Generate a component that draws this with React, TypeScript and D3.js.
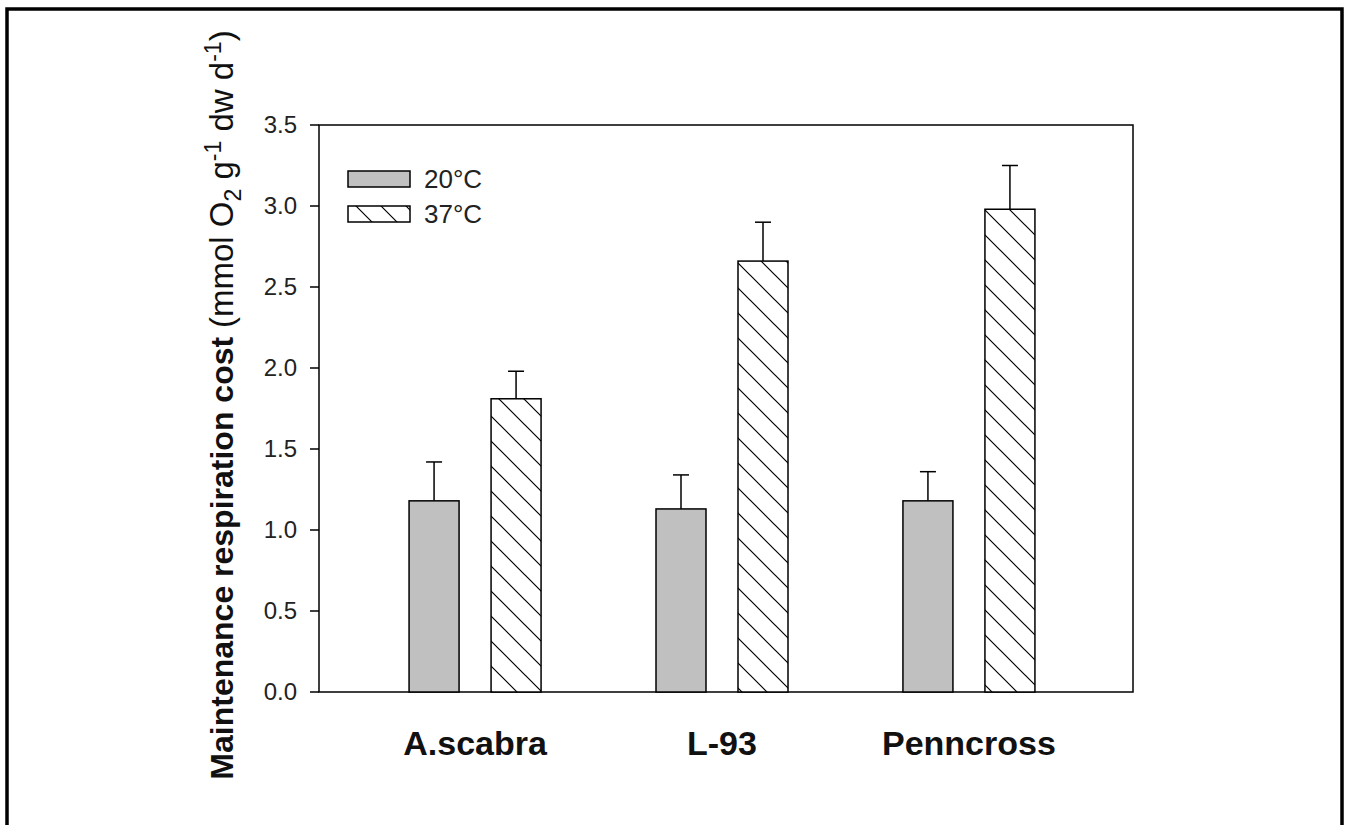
import { useEffect, useRef } from 'react';
import * as d3 from 'd3';

const W = 1349;
const H = 825;

const categories = ['A.scabra', 'L-93', 'Penncross'];
const series = ['20°C', '37°C'];
const mean20 = [1.18, 1.13, 1.18];
const err20 = [0.24, 0.21, 0.18];
const mean37 = [1.81, 2.66, 2.98];
const err37 = [0.17, 0.24, 0.27];
const yTicks = [0, 0.5, 1.0, 1.5, 2.0, 2.5, 3.0, 3.5];

const M = { left: 319, top: 125, right: 1133, bottom: 692 };
const BAR_W = 50;

export default function App() {
  const svgRef = useRef<SVGSVGElement>(null);

  useEffect(() => {
    const svg = d3.select(svgRef.current);
    svg.selectAll('*').remove();
    const font = 'Arial, "Liberation Sans", sans-serif';

    const x = d3.scalePoint<string>().domain(categories).range([M.left, M.right - 8]).padding(0.632);
    const y = d3.scaleLinear([0, 3.5], [M.bottom, M.top]);

    // hatch pattern
    const defs = svg.append('defs');
    const pat = defs.append('pattern').attr('id', 'hatch')
      .attr('patternUnits', 'userSpaceOnUse').attr('width', 25).attr('height', 25);
    pat.append('rect').attr('width', 25).attr('height', 25).attr('fill', '#fff');
    pat.append('path').attr('d', 'M-2,-2 L27,27 M-2,23 L2,27 M23,-2 L27,2')
      .attr('stroke', '#000').attr('stroke-width', 1.2);

    // outer frame
    svg.append('rect').attr('x', 7).attr('y', 9).attr('width', W - 14).attr('height', H + 20)
      .attr('fill', 'none').attr('stroke', '#000').attr('stroke-width', 3.5);

    // plot box
    svg.append('rect').attr('x', M.left).attr('y', M.top)
      .attr('width', M.right - M.left).attr('height', M.bottom - M.top)
      .attr('fill', 'none').attr('stroke', '#000').attr('stroke-width', 1.5);

    // y ticks
    const yg = svg.append('g');
    yTicks.forEach(t => {
      yg.append('line').attr('x1', M.left - 9).attr('x2', M.left)
        .attr('y1', y(t)).attr('y2', y(t)).attr('stroke', '#000').attr('stroke-width', 1.5);
      yg.append('text').attr('x', M.left - 22).attr('y', y(t) + 8)
        .attr('text-anchor', 'end').attr('font-family', font).attr('font-size', 24)
        .attr('fill', '#222').text(t.toFixed(1));
    });

    const data = [
      { means: mean20, errs: err20, off: -41, fill: '#c0c0c0' },
      { means: mean37, errs: err37, off: 41, fill: 'url(#hatch)' },
    ];

    data.forEach(s => {
      categories.forEach((c, i) => {
        const cx = (x(c) ?? 0) + s.off;
        const v = s.means[i];
        const top = v + s.errs[i];
        svg.append('line').attr('x1', cx).attr('x2', cx).attr('y1', y(v)).attr('y2', y(top))
          .attr('stroke', '#000').attr('stroke-width', 1.5);
        svg.append('line').attr('x1', cx - 8).attr('x2', cx + 8).attr('y1', y(top)).attr('y2', y(top))
          .attr('stroke', '#000').attr('stroke-width', 1.5);
        svg.append('rect').attr('x', cx - BAR_W / 2).attr('y', y(v))
          .attr('width', BAR_W).attr('height', y(0) - y(v))
          .attr('fill', s.fill).attr('stroke', '#000').attr('stroke-width', 1.5);
      });
    });

    // category labels
    categories.forEach(c => {
      svg.append('text').attr('x', x(c) ?? 0).attr('y', 755)
        .attr('text-anchor', 'middle').attr('font-family', font)
        .attr('font-size', 34).attr('font-weight', 'bold').attr('fill', '#111').text(c);
    });

    // legend
    const lg = svg.append('g');
    series.forEach((s, i) => {
      const ly = 171 + i * 35;
      lg.append('rect').attr('x', 348).attr('y', ly).attr('width', 62).attr('height', 16)
        .attr('fill', i === 0 ? '#c0c0c0' : 'url(#hatch)').attr('stroke', '#000').attr('stroke-width', 1.5);
      lg.append('text').attr('x', 424).attr('y', ly + 17).attr('font-family', font)
        .attr('font-size', 26).attr('fill', '#222').text(s);
    });

    // y-axis title
    const tt = svg.append('text').attr('transform', `translate(233, 405) rotate(-90)`)
      .attr('text-anchor', 'middle').attr('font-family', font).attr('fill', '#111');
    tt.append('tspan').attr('font-size', 32).attr('font-weight', 'bold').text('Maintenance respiration cost ');
    tt.append('tspan').attr('font-size', 33).text('(mmol O');
    tt.append('tspan').attr('font-size', 23).attr('dy', 8).text('2');
    tt.append('tspan').attr('font-size', 33).attr('dy', -8).text(' g');
    tt.append('tspan').attr('font-size', 23).attr('dy', -12).text('-1');
    tt.append('tspan').attr('font-size', 33).attr('dy', 12).text(' dw d');
    tt.append('tspan').attr('font-size', 23).attr('dy', -12).text('-1');
    tt.append('tspan').attr('font-size', 33).attr('dy', 12).text(')');
  }, []);

  return (
    <svg ref={svgRef} width={W} height={H}
      style={{ position: 'absolute', left: 0, top: 0, background: '#fff', display: 'block' }} />
  );
}
